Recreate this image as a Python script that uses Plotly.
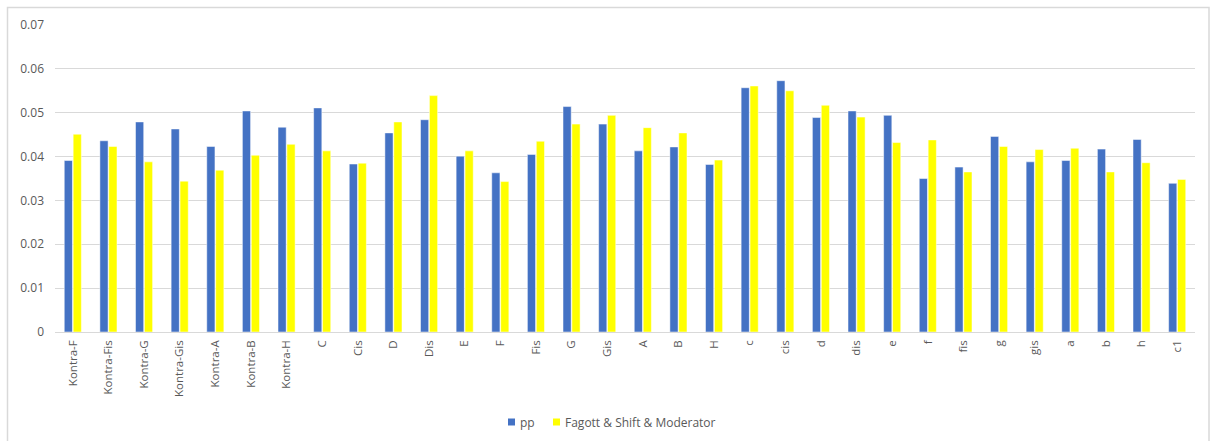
import plotly.graph_objects as go

notes = ["Kontra-F", "Kontra-Fis", "Kontra-G", "Kontra-Gis", "Kontra-A", "Kontra-B",
         "Kontra-H", "C", "Cis", "D", "Dis", "E", "F", "Fis", "G", "Gis", "A", "B", "H",
         "c", "cis", "d", "dis", "e", "f", "fis", "g", "gis", "a", "b", "h", "c1"]

pp = [0.0391, 0.0436, 0.0479, 0.0463, 0.0423, 0.0504, 0.0467, 0.0511, 0.0383, 0.0454,
      0.0484, 0.0401, 0.0363, 0.0405, 0.0514, 0.0474, 0.0413, 0.0422, 0.0382, 0.0557,
      0.0573, 0.0489, 0.0504, 0.0494, 0.0350, 0.0376, 0.0446, 0.0388, 0.0391, 0.0417,
      0.0439, 0.0339]

fagott = [0.0451, 0.0423, 0.0388, 0.0344, 0.0369, 0.0403, 0.0428, 0.0413, 0.0385, 0.0479,
          0.0539, 0.0413, 0.0343, 0.0435, 0.0474, 0.0494, 0.0466, 0.0454, 0.0392, 0.0561,
          0.0550, 0.0517, 0.0490, 0.0432, 0.0438, 0.0365, 0.0423, 0.0416, 0.0419, 0.0365,
          0.0386, 0.0348]

series_names = ["pp", "Fagott & Shift & Moderator"]
series_colors = ["#4472C4", "#FFFF00"]

FONT = "Open Sans"
GREY = "#595959"

fig = go.Figure()
for name, vals, col in zip(series_names, [pp, fagott], series_colors):
    fig.add_trace(go.Bar(name=name, x=notes, y=vals,
                         marker=dict(color=col, line=dict(color="#ffffff", width=0.5))))

L, R, T, B = 55, 15, 25, 109
W, H = 1210, 441
pw, ph = W - L - R, H - T - B


def px_x(p):
    return (p - L) / pw


def px_y(p):
    return (H - B - p) / ph


# legend drawn by hand: small square swatches with labels beside them
legend_y = 422
swatch_x = [508, 553]
shapes = [dict(type="rect", xref="paper", yref="paper",
               x0=px_x(7.5), x1=px_x(1209), y0=px_y(450), y1=px_y(7.5),
               line=dict(color="#d9d9d9", width=1.5), fillcolor="rgba(0,0,0,0)",
               layer="below")]
annotations = []
for sx, name, col in zip(swatch_x, series_names, series_colors):
    shapes.append(dict(type="rect", xref="paper", yref="paper",
                       x0=px_x(sx), x1=px_x(sx + 7), y0=px_y(legend_y + 3.5),
                       y1=px_y(legend_y - 3.5), line=dict(width=0), fillcolor=col))
    annotations.append(dict(xref="paper", yref="paper", x=px_x(sx + 10), y=px_y(legend_y),
                            xanchor="left", yanchor="middle", showarrow=False, text=name,
                            font=dict(family=FONT, size=12, color=GREY)))

fig.update_layout(
    width=W, height=H,
    margin=dict(l=L, r=R, t=T, b=B, autoexpand=False),
    paper_bgcolor="white", plot_bgcolor="white",
    barmode="group", bargap=0.5, bargroupgap=0.08,
    font=dict(family=FONT, color=GREY, size=12),
    showlegend=False,
    xaxis=dict(tickangle=-90, tickfont=dict(size=11.5, color=GREY), showgrid=False,
               showline=False, ticks="", fixedrange=True, automargin=False,
               ticklabelstandoff=5),
    yaxis=dict(range=[0, 0.07], dtick=0.01, showgrid=True,
               gridcolor="#d9d9d9", gridwidth=1, zeroline=True, zerolinecolor="#d9d9d9",
               zerolinewidth=1, ticks="", tickfont=dict(size=12, color=GREY),
               ticklabelstandoff=10, showline=False, automargin=False),
    shapes=shapes,
    annotations=annotations,
)

fig.write_html("out.html")
